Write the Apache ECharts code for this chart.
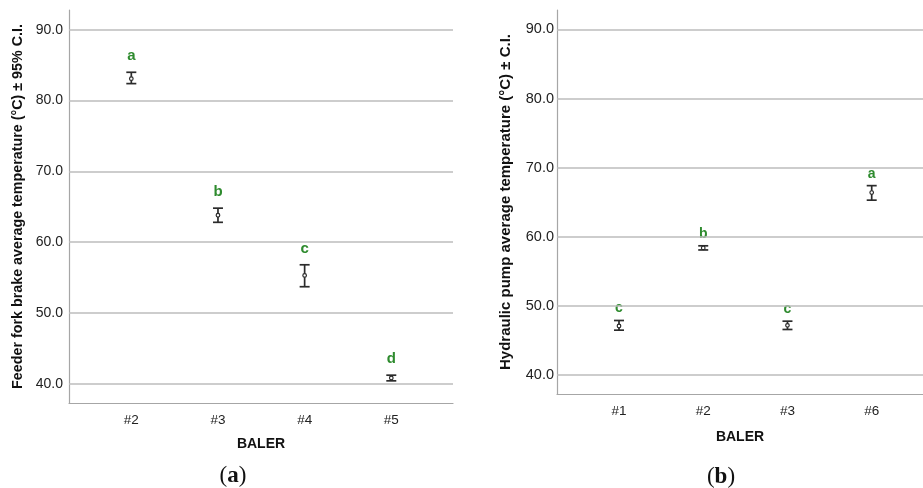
<!DOCTYPE html>
<html>
<head>
<meta charset="utf-8">
<script src="https://cdn.jsdelivr.net/npm/echarts@6/dist/echarts.min.js"></script>
<style>
  html, body { margin: 0; padding: 0; background: #ffffff; }
  #chart { width: 923px; height: 488px; }
</style>
</head>
<body>
<div id="chart"></div>
<script>
// Panel (a): feeder fork brake temperature per baler (mean and 95% C.I.)
const balerA = ['#2', '#3', '#4', '#5'];
const meanA  = [83.1, 63.8, 55.3, 40.8];
const lowA   = [82.4, 62.8, 53.7, 40.4];
const highA  = [84.0, 64.8, 56.8, 41.2];
const groupA = ['a', 'b', 'c', 'd'];

// Panel (b): hydraulic pump temperature per baler (mean and C.I.)
const balerB = ['#1', '#2', '#3', '#6'];
const meanB  = [47.1, 58.4, 47.2, 66.4];
const lowB   = [46.5, 58.1, 46.6, 65.3];
const highB  = [47.9, 58.7, 47.8, 67.4];
const groupB = ['c', 'b', 'c', 'a'];

// Shared y ticks for both panels
const yTicks = [40, 50, 60, 70, 80, 90];

const FONT = 'Liberation Sans, Arial, sans-serif';
const SERIF = 'Liberation Serif, DejaVu Serif, serif';
const GREEN = '#2e8b2e';
const INK = '#2b2b2b';
const GRID_GRAY = '#bcbcbc';
const AXIS_GRAY = '#a6a6a6';

function ciRenderer(letters, labelGap, labelSize, labelWeight) {
  return function (params, api) {
    const x = api.value(0);
    const c = api.coord([x, api.value(1)]);
    const lo = api.coord([x, api.value(2)]);
    const hi = api.coord([x, api.value(3)]);
    const half = 5;
    const st = { stroke: INK, lineWidth: 1.7 };
    return {
      type: 'group',
      children: [
        { type: 'line', shape: { x1: c[0], y1: lo[1], x2: c[0], y2: hi[1] }, style: st },
        { type: 'line', shape: { x1: c[0] - half, y1: lo[1], x2: c[0] + half, y2: lo[1] }, style: st },
        { type: 'line', shape: { x1: c[0] - half, y1: hi[1], x2: c[0] + half, y2: hi[1] }, style: st },
        { type: 'circle', shape: { cx: c[0], cy: c[1], r: 1.8 },
          style: { fill: '#ffffff', stroke: INK, lineWidth: 1.2 } },
        { type: 'text', x: c[0], y: hi[1] - labelGap,
          style: { text: letters[params.dataIndex], fill: GREEN, fontFamily: FONT,
                   fontSize: labelSize, fontWeight: labelWeight,
                   align: 'center', verticalAlign: 'middle' } }
      ]
    };
  };
}

function gridLines() {
  return {
    silent: true,
    symbol: 'none',
    label: { show: false },
    lineStyle: { color: GRID_GRAY, width: 1.5, type: 'solid' },
    emphasis: { disabled: true },
    animation: false,
    data: yTicks.map(v => ({ yAxis: v }))
  };
}

function xAxisFor(idx, names, min, max, gap) {
  return {
    type: 'value', gridIndex: idx, min: min, max: max,
    name: 'BALER', nameLocation: 'middle', nameGap: gap,
    nameTextStyle: { fontFamily: FONT, fontSize: 14, fontWeight: 'bold', color: '#111' },
    axisLine: { show: true, onZero: false, lineStyle: { color: AXIS_GRAY, width: 1.2 } },
    axisTick: { show: false },
    splitLine: { show: false },
    axisLabel: {
      customValues: [0, 1, 2, 3],
      formatter: v => names[Math.round(v)],
      fontFamily: FONT, fontSize: 13.5, color: '#222', margin: 10
    }
  };
}

function yAxisFor(idx, title, titleSize, margin, labelSize) {
  return {
    type: 'value', gridIndex: idx, min: 37.27, max: 92.8,
    name: title, nameLocation: 'middle', nameGap: 44,
    nameTextStyle: { fontFamily: FONT, fontSize: titleSize, fontWeight: 'bold', color: '#111' },
    axisLine: { show: true, onZero: false, lineStyle: { color: AXIS_GRAY, width: 1.2 } },
    axisTick: { show: false },
    splitLine: { show: false },
    axisLabel: {
      customValues: yTicks,
      formatter: v => v.toFixed(1),
      fontFamily: FONT, fontSize: labelSize, color: '#222', margin: margin
    }
  };
}

function caption(letter, cx, cy) {
  return {
    type: 'text', x: cx, y: cy, silent: true,
    style: {
      text: '{p|(}{l|' + letter + '}{p|)}',
      align: 'center', verticalAlign: 'middle',
      rich: {
        p: { fontFamily: SERIF, fontSize: 23, fill: '#111' },
        l: { fontFamily: SERIF, fontSize: 23, fontWeight: 'bold', fill: '#111' }
      }
    }
  };
}

const chart = echarts.init(document.getElementById('chart'), null, { renderer: 'canvas' });

chart.setOption({
  animation: false,
  backgroundColor: '#ffffff',
  grid: [
    { left: 69, top: 10, right: 470, bottom: 85 },
    { left: 557, top: 10, right: 0, bottom: 94 }
  ],
  xAxis: [
    xAxisFor(0, balerA, -0.719, 3.712, 34),
    xAxisFor(1, balerB, -0.736, 3.609, 36)
  ],
  yAxis: [
    yAxisFor(0, 'Feeder fork brake average temperature (°C) ± 95% C.I.', 14.3, 6, 14),
    yAxisFor(1, 'Hydraulic pump average temperature (°C) ± C.I.', 15, 3, 14.5)
  ],
  series: [
    {
      type: 'custom', xAxisIndex: 0, yAxisIndex: 0,
      renderItem: ciRenderer(groupA, 16, 15, 'bold'),
      encode: { x: 0, y: 1 },
      data: meanA.map((m, i) => [i, m, lowA[i], highA[i]]),
      markLine: gridLines(),
      z: 3
    },
    {
      type: 'custom', xAxisIndex: 1, yAxisIndex: 1,
      renderItem: ciRenderer(groupB, 12, 14, 'bold'),
      encode: { x: 0, y: 1 },
      data: meanB.map((m, i) => [i, m, lowB[i], highB[i]]),
      markLine: gridLines(),
      z: 3
    }
  ],
  graphic: [
    caption('a', 233, 476),
    caption('b', 721, 477)
  ]
});
</script>
</body>
</html>
